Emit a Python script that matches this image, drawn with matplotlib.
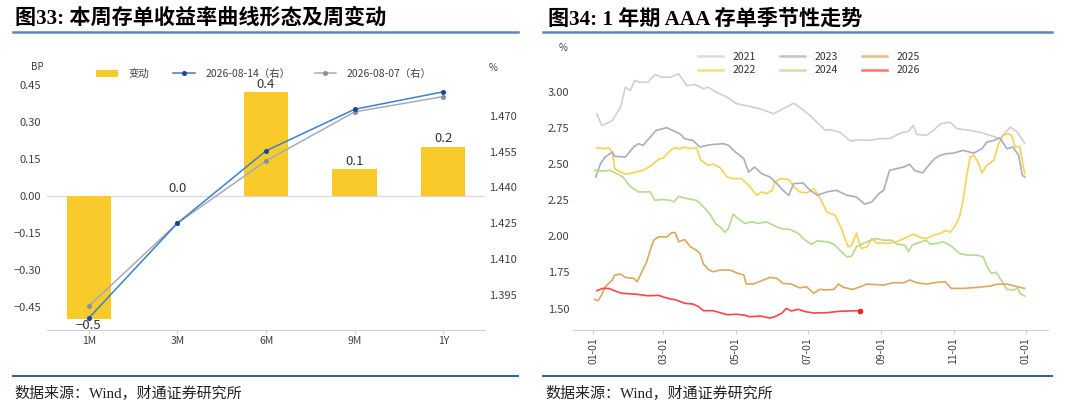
import numpy as np
import matplotlib
matplotlib.use("Agg")
import matplotlib.pyplot as plt
from matplotlib.patches import Patch
from matplotlib.lines import Line2D

plt.rcParams['font.family'] = ['Noto Sans CJK SC', 'DejaVu Sans']
plt.rcParams['axes.unicode_minus'] = True

# ---------------- data: left chart ----------------
tenors = ["1M", "3M", "6M", "9M", "1Y"]
change_bp = [-0.50, 0.00, 0.42, 0.11, 0.20]
yield_0814 = [1.3853, 1.4250, 1.4553, 1.4727, 1.4800]
yield_0807 = [1.3903, 1.4250, 1.4511, 1.4716, 1.4780]
left_ticks = [-0.45, -0.30, -0.15, 0.00, 0.15, 0.30, 0.45]
right_ticks = [1.395, 1.410, 1.425, 1.440, 1.455, 1.470]

# ---------------- data: right chart (day of year, yield %) ----------------
d2021 = [3,7,11,16,23,27,31,35,39,46,52,58,65,72,79,86,93,97,104,113,121,132,141,152,160,169,174,183,190,196,200,208,217,225,233,242,250,259,266,270,273,281,287,293,301,307,318,326,335,343,352,358,364]
v2021 = [2.846,2.766,2.777,2.80,2.892,3.03,3.007,3.076,3.064,3.064,3.117,3.099,3.099,3.122,3.041,3.048,3.019,3.03,2.995,2.96,2.915,2.897,2.88,2.846,2.88,2.919,2.892,2.834,2.777,2.731,2.736,2.719,2.657,2.667,2.662,2.674,2.674,2.712,2.726,2.766,2.703,2.697,2.731,2.777,2.788,2.743,2.731,2.719,2.697,2.674,2.754,2.717,2.641]
d2022 = [3,8,13,16,18,23,28,35,42,48,55,59,65,69,73,77,82,87,91,97,101,107,113,118,125,131,138,142,146,151,153,158,165,169,174,180,186,191,197,204,210,215,218,222,226,231,235,239,248,256,262,270,276,281,287,293,297,301,305,309,312,315,318,321,324,328,332,338,342,346,350,353,356,360,362,364]
v2022 = [2.612,2.605,2.612,2.581,2.467,2.443,2.428,2.443,2.455,2.483,2.531,2.54,2.593,2.612,2.605,2.616,2.605,2.612,2.524,2.49,2.497,2.474,2.409,2.398,2.398,2.352,2.283,2.306,2.294,2.317,2.374,2.398,2.391,2.345,2.306,2.299,2.329,2.271,2.168,2.145,2.041,1.926,1.938,2.019,1.915,1.926,1.984,1.954,1.95,1.961,1.984,2.014,1.991,1.984,2.007,2.019,2.041,2.026,2.064,2.133,2.248,2.409,2.547,2.559,2.524,2.437,2.49,2.524,2.639,2.697,2.708,2.697,2.616,2.621,2.524,2.432]
d2023 = [2,6,10,16,18,27,34,38,42,48,53,62,67,73,77,84,90,96,101,110,114,120,127,131,136,142,149,155,160,165,169,177,183,189,197,205,214,222,229,235,241,245,250,256,262,267,271,278,283,288,293,298,304,312,321,328,332,338,343,349,354,359,362,364]
v2023 = [2.409,2.50,2.547,2.581,2.552,2.547,2.616,2.639,2.628,2.685,2.731,2.75,2.731,2.708,2.674,2.662,2.616,2.628,2.634,2.639,2.628,2.581,2.536,2.443,2.478,2.432,2.409,2.363,2.317,2.283,2.363,2.368,2.317,2.283,2.306,2.317,2.283,2.271,2.221,2.237,2.294,2.317,2.455,2.467,2.478,2.497,2.455,2.437,2.49,2.536,2.559,2.57,2.574,2.593,2.574,2.605,2.65,2.662,2.68,2.605,2.616,2.559,2.421,2.409]
d2024 = [1,8,14,20,25,31,38,48,52,58,65,68,72,79,87,93,98,103,107,111,114,118,122,128,134,139,146,152,158,166,173,177,184,189,197,203,208,214,218,222,231,238,245,252,256,263,266,269,274,281,284,290,295,301,309,315,324,329,333,336,340,345,349,355,358,360,364]
v2024 = [2.455,2.45,2.455,2.432,2.409,2.345,2.306,2.306,2.248,2.253,2.248,2.237,2.276,2.26,2.248,2.202,2.157,2.088,2.064,2.026,2.053,2.152,2.122,2.088,2.099,2.088,2.099,2.076,2.053,2.046,2.019,1.984,1.943,1.968,1.961,1.945,1.903,1.857,1.862,1.926,1.961,1.984,1.972,1.972,1.945,1.938,1.892,1.938,1.954,1.972,1.945,1.95,1.961,1.938,1.881,1.869,1.869,1.857,1.777,1.743,1.75,1.685,1.632,1.628,1.643,1.605,1.586]
d2025 = [1,4,7,10,16,18,23,27,34,37,41,45,48,51,55,62,66,69,72,77,82,87,90,93,97,101,107,115,121,127,129,135,142,149,155,160,167,174,180,186,191,197,203,207,211,219,225,231,245,253,262,267,273,281,290,297,302,312,324,335,340,349,358,364]
v2025 = [1.563,1.554,1.593,1.65,1.697,1.731,1.738,1.715,1.708,1.685,1.754,1.823,1.903,1.972,1.995,1.995,2.023,2.026,1.961,1.977,1.926,1.903,1.88,1.807,1.77,1.754,1.766,1.766,1.747,1.731,1.669,1.669,1.692,1.715,1.708,1.674,1.669,1.643,1.65,1.605,1.632,1.628,1.632,1.669,1.646,1.632,1.65,1.669,1.662,1.678,1.678,1.697,1.678,1.669,1.681,1.685,1.639,1.639,1.646,1.655,1.667,1.669,1.65,1.639]
d2026 = [3,8,13,20,24,37,46,55,60,65,70,77,84,89,93,101,113,121,127,132,141,149,153,159,163,167,173,179,186,197,208,217,225]
v2026 = [1.623,1.639,1.639,1.616,1.605,1.598,1.588,1.591,1.577,1.566,1.559,1.536,1.531,1.512,1.485,1.485,1.457,1.46,1.455,1.443,1.448,1.434,1.443,1.467,1.501,1.483,1.494,1.478,1.469,1.471,1.481,1.483,1.485]
month_tick_days = [0, 59, 120, 181, 243, 304, 365]
month_tick_labels = ["01-01", "03-01", "05-01", "07-01", "09-01", "11-01", "01-01"]
season_ticks = [1.50, 1.75, 2.00, 2.25, 2.50, 2.75, 3.00]

# ---------------- figure ----------------
W, H = 1080, 415
fig = plt.figure(figsize=(W / 100, H / 100), dpi=100)

def rect(x0, y0, x1, y1):
    return [x0 / W, 1 - y1 / H, (x1 - x0) / W, (y1 - y0) / H]

TXT = '#404040'
AXC = '#cfcfcf'
title_family = ['Liberation Serif', 'Noto Sans CJK SC', 'DejaVu Sans']

# titles, rules and sources
fig.text(15 / W, 1 - 19 / H, "图33: 本周存单收益率曲线形态及周变动", family=title_family,
         fontsize=15.2, fontweight='bold', va='center', ha='left', color='black')
fig.text(548 / W, 1 - 19 / H, "图34: 1 年期 AAA 存单季节性走势", family=title_family,
         fontsize=15.2, fontweight='bold', va='center', ha='left', color='black')
for (xa, xb) in [(13, 518), (543, 1052)]:
    fig.add_artist(Line2D([xa / W, xb / W], [1 - 32.5 / H] * 2, color='#5b87c0', lw=1.8))
    fig.add_artist(Line2D([xa / W, xb / W], [1 - 376 / H] * 2, color='#2a5ca8', lw=1.4))
fig.text(14 / W, 1 - 393 / H, "数据来源：Wind，财通证券研究所", family=title_family,
         fontsize=10.8, va='center', ha='left', color='#222222')
fig.text(545 / W, 1 - 393 / H, "数据来源：Wind，财通证券研究所", family=title_family,
         fontsize=10.8, va='center', ha='left', color='#222222')

# ---------------- left chart ----------------
ax = fig.add_axes(rect(47, 78, 485, 330))
x = np.arange(len(tenors))
bar_color = '#F9CB2A'
ax.bar(x, change_bp, width=0.5, color=bar_color, zorder=2)
ax.axhline(0, color='#d9d9d9', lw=0.9, zorder=1)
ax.set_xlim(-0.47, 4.47)
ax.set_ylim(-0.5447, 0.4784)
ax.set_yticks(left_ticks)
ax.set_yticklabels([f"{t:.2f}".replace('-', '\u2212') for t in left_ticks])
ax.set_xticks(x)
ax.set_xticklabels(tenors)
for s in ['top', 'right', 'left']:
    ax.spines[s].set_visible(False)
ax.spines['bottom'].set_color(AXC)
ax.tick_params(axis='y', length=0, pad=4, labelsize=8, labelcolor=TXT)
ax.tick_params(axis='x', length=3, color=AXC, pad=1, labelsize=7.5, labelcolor=TXT)
for xi, v in zip(x, change_bp):
    lab = f"{v:.1f}".replace('-', '\u2212')
    if v < 0:
        ax.annotate(lab, (xi, v), xytext=(0, 0), textcoords='offset points',
                    ha='center', va='top', fontsize=9.5, color='#333333', zorder=5)
    else:
        ax.annotate(lab, (xi, v), xytext=(0, 0.8), textcoords='offset points',
                    ha='center', va='bottom', fontsize=9.5, color='#333333', zorder=5)

ax2 = ax.twinx()
ax2.set_position(rect(47, 78, 485, 330))
c_blue, m_blue = '#3f7fc9', '#17479a'
c_gray, m_gray = '#a5abb8', '#8790a2'
ax2.plot(x, yield_0807, color=c_gray, lw=1.1, marker='o', ms=2.6, mfc=m_gray, mec=m_gray, zorder=3)
ax2.plot(x, yield_0814, color=c_blue, lw=1.1, marker='o', ms=2.6, mfc=m_blue, mec=m_blue, zorder=4)
ax2.set_ylim(1.38036, 1.48577)
ax2.set_yticks(right_ticks)
ax2.set_yticklabels([f"{t:.3f}" for t in right_ticks])
for s in ['top', 'right', 'left', 'bottom']:
    ax2.spines[s].set_visible(False)
ax2.tick_params(axis='y', length=0, pad=3, labelsize=8, labelcolor=TXT)

fig.text(37 / W, 1 - 67 / H, "BP", fontsize=7, ha='center', va='center', color=TXT)
fig.text(493 / W, 1 - 68 / H, "%", fontsize=7, ha='center', va='center', color=TXT)

lh = [Patch(facecolor=bar_color, edgecolor='none'),
      Line2D([], [], color=c_blue, lw=1.1, marker='o', ms=2.6, mfc=m_blue, mec=m_blue),
      Line2D([], [], color=c_gray, lw=1.1, marker='o', ms=2.6, mfc=m_gray, mec=m_gray)]
fig.legend(lh, ["变动", "2026-08-14（右）", "2026-08-07（右）"], loc='center',
           bbox_to_anchor=(264 / W, 1 - 74 / H), ncol=3, frameon=False, fontsize=7.5,
           handlelength=2.1, handletextpad=1.0, columnspacing=2.3, labelcolor=TXT)

# ---------------- right chart ----------------
axr = fig.add_axes(rect(572.7, 40, 1048, 330))
series = [
    ("2021", d2021, v2021, '#d0d0d0'),
    ("2022", d2022, v2022, '#f9d24f'),
    ("2023", d2023, v2023, '#a6aec2'),
    ("2024", d2024, v2024, '#b5db8e'),
    ("2025", d2025, v2025, '#dea75e'),
    ("2026", d2026, v2026, '#ff4444'),
]
handles = []
for name, dd, vv, col in series:
    axr.plot(dd, vv, color=col, lw=1.2, label=name)
    handles.append(Line2D([], [], color=col, lw=1.8, alpha=0.75))
axr.plot([d2026[-1]], [v2026[-1]], 'o', color='#ff2020', ms=3)
axr.set_xlim(-17.4, 383.7)
axr.set_ylim(1.3514, 3.356)
axr.set_yticks(season_ticks)
axr.set_yticklabels([f"{t:.2f}" for t in season_ticks])
axr.set_xticks(month_tick_days)
axr.set_xticklabels(month_tick_labels, rotation=90)
for s in ['top', 'right', 'left']:
    axr.spines[s].set_visible(False)
axr.spines['bottom'].set_color(AXC)
axr.tick_params(axis='y', length=0, pad=2.5, labelsize=8, labelcolor=TXT)
axr.tick_params(axis='x', length=3, color=AXC, pad=2, labelsize=7.5, labelcolor=TXT)
fig.text(563 / W, 1 - 48 / H, "%", fontsize=7, ha='center', va='center', color=TXT)
fig.legend(handles, [s[0] for s in series], loc='center',
           bbox_to_anchor=(809 / W, 1 - 63.5 / H), ncol=3, frameon=False, fontsize=7.5,
           handlelength=2.4, handletextpad=0.9, columnspacing=2.3, labelspacing=0.35,
           labelcolor='#333333')

fig.savefig("out.png", dpi=100)
